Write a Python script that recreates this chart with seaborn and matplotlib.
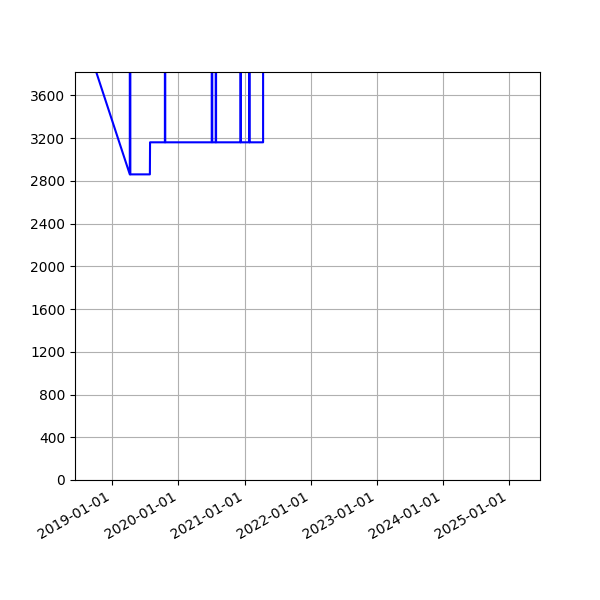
import seaborn as sns
import pandas as pd
import matplotlib
matplotlib.use("Agg")
import matplotlib.pyplot as plt
import matplotlib.dates as mdates
import matplotlib.ticker as mticker

# values; spikes go far above the visible window
dates = ['2018-09-30', '2019-04-07', '2019-04-08', '2019-04-10', '2019-07-27',
         '2019-07-28', '2019-10-18', '2019-10-19', '2019-10-20', '2020-07-03',
         '2020-07-04', '2020-07-06', '2020-07-25', '2020-07-26', '2020-07-27',
         '2020-12-09', '2020-12-10', '2020-12-11', '2021-01-26', '2021-01-27',
         '2021-01-28', '2021-04-13', '2021-04-14']
values = [3835, 2860, 40000, 2860, 2860,
          3160, 3160, 40000, 3160, 3160,
          40000, 3160, 3160, 40000, 3160,
          3160, 40000, 3160, 3160, 40000,
          3160, 3160, 40000]

df = pd.DataFrame({'date': pd.to_datetime(dates), 'value': values})

fig, ax = plt.subplots(figsize=(6, 6), dpi=100)
sns.lineplot(data=df, x='date', y='value', color='blue', estimator=None,
             linewidth=1.5, ax=ax)

ax.set_xlim(pd.Timestamp('2018-06-08'), pd.Timestamp('2025-06-22'))
ax.set_ylim(0, 3818)
ax.xaxis.set_major_locator(mdates.YearLocator())
ax.xaxis.set_major_formatter(mdates.DateFormatter('%Y-%m-%d'))
ax.yaxis.set_major_locator(mticker.MultipleLocator(400))
ax.set_xlabel('')
ax.set_ylabel('')
ax.grid(True)
fig.autofmt_xdate()

plt.savefig('out.png')
